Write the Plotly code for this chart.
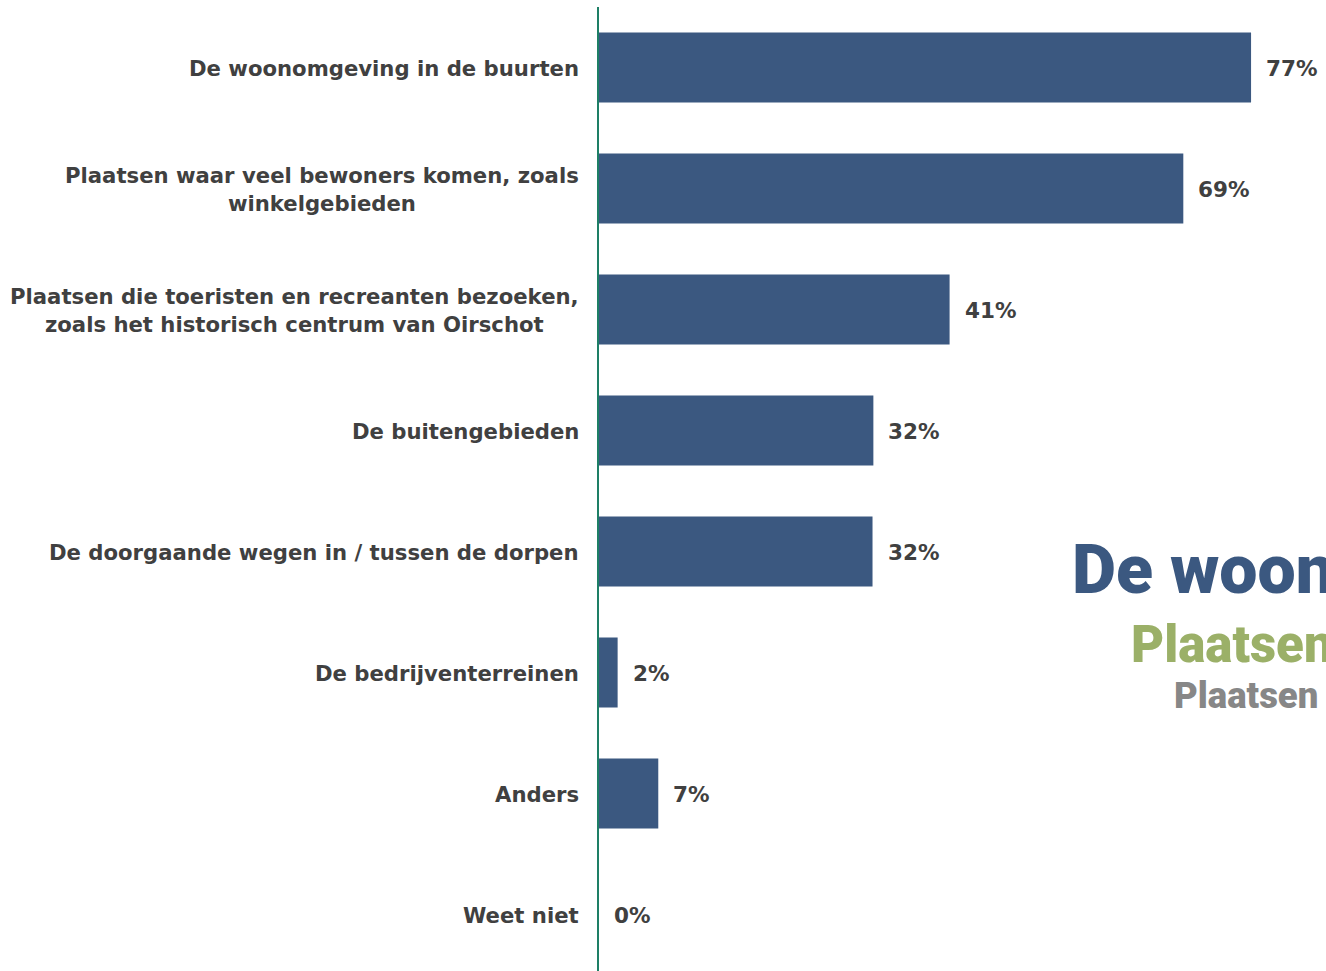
import plotly.graph_objects as go

categories = [
    "De woonomgeving in de buurten",
    "Plaatsen waar veel bewoners komen, zoals<br>winkelgebieden",
    "Plaatsen die toeristen en recreanten bezoeken,<br>zoals het historisch centrum van Oirschot",
    "De buitengebieden",
    "De doorgaande wegen in / tussen de dorpen",
    "De bedrijventerreinen",
    "Anders",
    "Weet niet",
]
values = [77.0, 69.0, 41.4, 32.4, 32.3, 2.2, 7.0, 0.0]
cloud_words = [
    "De woonomgeving in de buurten",
    "Plaatsen waar veel bewoners komen, zoals winkelgebieden",
    "Plaatsen die toeristen en recreanten bezoeken",
]

BAR = "#3B5880"
TXT = "#404040"
AXIS = "#1E7F66"
FONT = "DejaVu Sans"

pos = list(range(len(categories)))

fig = go.Figure()
fig.add_trace(go.Bar(
    x=values, y=pos, orientation="h",
    marker=dict(color=BAR, line=dict(width=0)),
    hoverinfo="skip",
))

# category labels
for p, c in zip(pos, categories):
    fig.add_annotation(
        x=0, y=p, xref="x", yref="y", text=f"<b>{c}</b>",
        xanchor="right", yanchor="middle", align="center",
        xshift=-18, yshift=-1, showarrow=False,
        font=dict(family=FONT, size=21.2, color=TXT),
    )

# value labels
for p, v in zip(pos, values):
    fig.add_annotation(
        x=v, y=p, xref="x", yref="y", text=f"<b>{round(v)}%</b>",
        xanchor="left", yanchor="middle",
        xshift=13, yshift=-1, showarrow=False,
        font=dict(family=FONT, size=21.5, color=TXT),
    )

# decorative word-cloud fragments (clipped at the right edge)
cloud_styles = [
    dict(x=0.6475, y=0.416, size=68, color="#3B5880"),
    dict(x=0.7290, y=0.339, size=51, color="#9BB068"),
    dict(x=0.7880, y=0.286, size=36.5, color="#878787"),
]
for w, s in zip(cloud_words, cloud_styles):
    fig.add_annotation(
        x=s["x"], y=s["y"], xref="paper", yref="paper", text=w,
        xanchor="left", yanchor="middle", showarrow=False,
        font=dict(family="Roboto", weight=900, size=s["size"], color=s["color"]),
    )

fig.update_layout(
    width=1326, height=971,
    margin=dict(l=599, r=0, t=7, b=0),
    plot_bgcolor="white", paper_bgcolor="white",
    showlegend=False, bargap=0.42,
    xaxis=dict(range=[0, 85.85], visible=False, showgrid=False, zeroline=False),
    yaxis=dict(range=[7.467, -0.5], showticklabels=False, showgrid=False,
               zeroline=False, showline=True, linecolor=AXIS, linewidth=2,
               ticks=""),
)

fig.write_html(
    "out.html",
    config={"displayModeBar": False},
    post_script="document.body.style.margin='0px';document.body.style.overflow='hidden';",
)
